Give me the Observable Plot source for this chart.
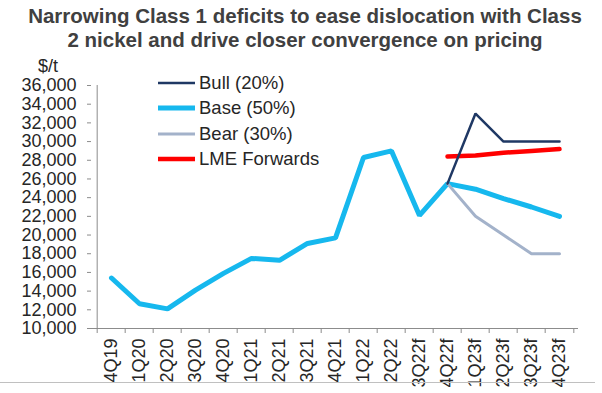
<!DOCTYPE html>
<html>
<head>
<meta charset="utf-8">
<script src="https://cdn.jsdelivr.net/npm/d3@7"></script>
<script src="https://cdn.jsdelivr.net/npm/@observablehq/plot@0.6"></script>
<style>
  html, body { margin: 0; padding: 0; background: #fff; }
  #wrap { position: relative; width: 602px; height: 393px; overflow: hidden; font-family: "Liberation Sans", Arial, sans-serif; }
  #title { position: absolute; left: 4px; top: 4px; width: 602px; text-align: center; font-weight: bold; font-size: 20.5px; line-height: 24px; color: #404040; }
  #unit { position: absolute; left: 38px; top: 56px; font-size: 18px; color: #262626; }
  #legend { position: absolute; left: 158px; top: 70px; font-size: 18.5px; color: #262626; }
  .li { display: flex; align-items: center; height: 25.5px; }
  .li svg { margin-right: 4px; }
  #sep { position: absolute; left: 0; top: 382px; width: 595px; height: 0; border-top: 1px solid #c0c0c0; }
</style>
</head>
<body>
<div id="wrap">
  <div id="chart"></div>
  <div id="title">Narrowing Class 1 deficits to ease dislocation with Class<br>2 nickel and drive closer convergence on pricing</div>
  <div id="unit">$/t</div>
  <div id="legend"></div>
  <div id="sep"></div>
</div>
<script>
const quarters = ["4Q19","1Q20","2Q20","3Q20","4Q20","1Q21","2Q21","3Q21","4Q21","1Q22","2Q22","3Q22f","4Q22f","1Q23f","2Q23f","3Q23f","4Q23f"];
const baseValues = [15400,12650,12100,14100,15900,17500,17300,19100,19700,28300,29000,22100,25500,24900,23900,23000,22000];
const forecastQuarters = ["4Q22f","1Q23f","2Q23f","3Q23f","4Q23f"];
const bullValues = [25500,33000,30000,30000,30000];
const bearValues = [25500,22000,20000,18000,18000];
const lmeValues = [28400,28500,28800,29000,29200];
const yTicks = [10000,12000,14000,16000,18000,20000,22000,24000,26000,28000,30000,32000,34000,36000];

const seriesNames = ["Bull (20%)","Base (50%)","Bear (30%)","LME Forwards"];
const seriesColors = ["#1f3864","#16b8ee","#a3b2ca","#ff0000"];
const seriesWidths = [2.5,5,3,4.5];

const toRows = (qs, vs) => qs.map((q, i) => ({q, v: vs[i]}));
const base = toRows(quarters, baseValues);
const bull = toRows(forecastQuarters, bullValues);
const bear = toRows(forecastQuarters, bearValues);
const lme = toRows(forecastQuarters, lmeValues);

const W = 602, H = 393, mL = 91, mR = 24, mT = 85, mB = 65;
const half = (W - mL - mR) / quarters.length / 2;
const axisColor = "#8c8c8c";

const chart = Plot.plot({
  width: W, height: H,
  marginLeft: mL, marginRight: mR, marginTop: mT, marginBottom: mB,
  style: {fontFamily: "Liberation Sans, Arial, sans-serif", fontSize: "18px", color: "#262626", background: "white"},
  x: {type: "band", domain: quarters, padding: 0},
  y: {domain: [10000, 36000]},
  marks: [
    Plot.ruleY([10000], {stroke: axisColor}),
    Plot.ruleX([quarters[0]], {dx: -half, stroke: axisColor}),
    Plot.axisY({ticks: yTicks, tickFormat: d3.format(","), tickSize: 4, tickPadding: 11, stroke: axisColor, label: null, fill: "#262626"}),
    Plot.axisX({tickSize: 0, tickPadding: 10, tickRotate: -90, label: null, fill: "#262626"}),
    Plot.axisX({text: null, tickSize: 5, dx: -half, stroke: axisColor, label: null}),
    Plot.axisX({ticks: [quarters[quarters.length - 1]], text: null, tickSize: 5, dx: half, stroke: axisColor, label: null}),
    Plot.line(base, {x: "q", y: "v", stroke: seriesColors[1], strokeWidth: seriesWidths[1], strokeLinejoin: "miter"}),
    Plot.line(bear, {x: "q", y: "v", stroke: seriesColors[2], strokeWidth: seriesWidths[2], strokeLinejoin: "miter"}),
    Plot.line(lme, {x: "q", y: "v", stroke: seriesColors[3], strokeWidth: seriesWidths[3]}),
    Plot.line(bull, {x: "q", y: "v", stroke: seriesColors[0], strokeWidth: seriesWidths[0], strokeLinejoin: "miter"})
  ]
});
document.getElementById("chart").appendChild(chart);

const legend = document.getElementById("legend");
seriesNames.forEach((name, i) => {
  const row = document.createElement("div");
  row.className = "li";
  row.innerHTML = `<svg width="37" height="8"><line x1="0" x2="37" y1="4" y2="4" stroke="${seriesColors[i]}" stroke-width="${seriesWidths[i]}"/></svg><span>${name}</span>`;
  legend.appendChild(row);
});
</script>
</body>
</html>
